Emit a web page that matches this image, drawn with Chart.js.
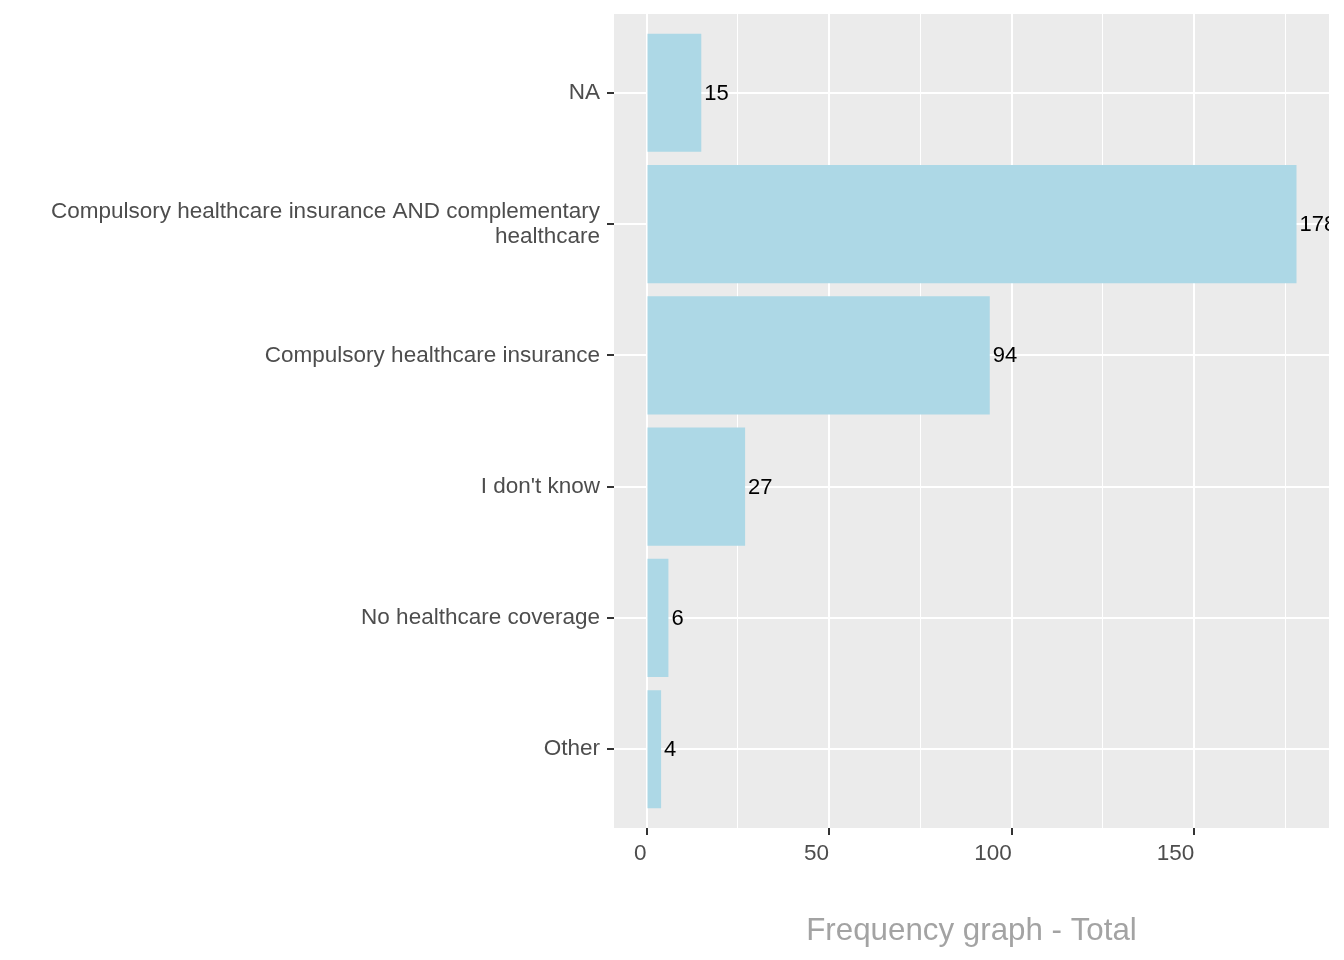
<!DOCTYPE html>
<html>
<head>
<meta charset="utf-8">
<script src="https://cdn.jsdelivr.net/npm/chart.js@4.4.1/dist/chart.umd.min.js"></script>
<style>
  html, body { margin: 0; padding: 0; background: #ffffff; }
  #wrap { width: 1344px; height: 960px; }
</style>
</head>
<body>
<div id="wrap"><canvas id="freqChart" width="1344" height="960"></canvas></div>
<script>
// categories top to bottom
const categories = [
    'NA',
    ['Compulsory healthcare insurance AND complementary', 'healthcare'],
    'Compulsory healthcare insurance',
    "I don't know",
    'No healthcare coverage',
    'Other'
];
const counts = [15, 178, 94, 27, 6, 4];
const xMajorTicks = [0, 50, 100, 150];
const xMinorTicks = [25, 75, 125, 175];
const axisTitle = 'Frequency graph - Total';

const FONT = '"Liberation Sans", Arial, sans-serif';
const PANEL_BG = '#EBEBEB';
const BAR_FILL = '#ADD8E6';

// ggplot style expansion: 5% on continuous axis, 0.6 on discrete
const xMax = Math.max(...counts);
const xExpand = xMax * 0.05;

const panelBg = {
    id: 'panelBg',
    beforeDraw(chart) {
        const { ctx, chartArea: a } = chart;
        ctx.save();
        ctx.fillStyle = PANEL_BG;
        ctx.fillRect(a.left, a.top, a.right - a.left, a.bottom - a.top);
        ctx.restore();
    }
};

const valueLabels = {
    id: 'valueLabels',
    afterDatasetsDraw(chart) {
        const { ctx, chartArea: a } = chart;
        const meta = chart.getDatasetMeta(0);
        ctx.save();
        ctx.beginPath();
        ctx.rect(a.left, a.top, a.right - a.left, a.bottom - a.top);
        ctx.clip();
        ctx.fillStyle = '#000000';
        ctx.font = '22px ' + FONT;
        ctx.textAlign = 'left';
        ctx.textBaseline = 'middle';
        meta.data.forEach((bar, i) => {
            ctx.fillText(String(counts[i]), bar.x + 3, bar.y + 1);
        });
        ctx.restore();
    }
};

const ctx = document.getElementById('freqChart').getContext('2d');
new Chart(ctx, {
    type: 'bar',
    data: {
        datasets: [{
            data: counts.map((v, i) => ({ x: v, y: i })),
            backgroundColor: BAR_FILL,
            borderWidth: 0,
            barPercentage: 0.9,
            categoryPercentage: 1.0
        }]
    },
    options: {
        indexAxis: 'y',
        responsive: false,
        animation: false,
        devicePixelRatio: 1,
        layout: { padding: { top: 14, right: 15, left: 0, bottom: 0 } },
        plugins: {
            legend: { display: false },
            tooltip: { enabled: false }
        },
        scales: {
            x: {
                type: 'linear',
                min: -xExpand,
                max: xMax + xExpand,
                afterBuildTicks: (scale) => {
                    scale.ticks = xMajorTicks.concat(xMinorTicks).sort((a, b) => a - b).map(v => ({ value: v }));
                },
                afterFit: (scale) => {
                    scale.height = 132;
                    scale.paddingLeft = 0;
                    scale.paddingRight = 0;
                },
                border: { display: false },
                grid: {
                    color: '#FFFFFF',
                    lineWidth: (c) => (xMajorTicks.includes(c.tick.value) ? 2 : 1),
                    tickColor: (c) => (xMajorTicks.includes(c.tick.value) ? '#333333' : 'rgba(0,0,0,0)'),
                    tickLength: 7,
                    tickWidth: 2
                },
                ticks: {
                    autoSkip: false,
                    maxRotation: 0,
                    align: 'end',
                    padding: 5,
                    color: '#4D4D4D',
                    font: { family: FONT, size: 22.5 },
                    callback: (v) => (xMajorTicks.includes(v) ? String(v) : '')
                },
                title: {
                    display: true,
                    text: axisTitle,
                    color: '#A3A3A3',
                    font: { family: FONT, size: 31.3 },
                    padding: { top: 0, bottom: 10 }
                }
            },
            y: {
                type: 'linear',
                offset: false,
                min: -0.6,
                max: categories.length - 1 + 0.6,
                reverse: true,
                afterBuildTicks: (scale) => {
                    scale.ticks = categories.map((c, i) => ({ value: i }));
                },
                afterFit: (scale) => {
                    scale.width = 614;
                    scale.paddingTop = 0;
                    scale.paddingBottom = 0;
                },
                border: { display: false },
                grid: {
                    offset: false,
                    color: '#FFFFFF',
                    lineWidth: 2,
                    tickColor: '#333333',
                    tickLength: 7,
                    tickWidth: 2
                },
                ticks: {
                    autoSkip: false,
                    padding: 7,
                    color: '#4D4D4D',
                    font: { family: FONT, size: 22.5, lineHeight: 1.1 },
                    callback: (v) => categories[v]
                }
            }
        }
    },
    plugins: [panelBg, valueLabels]
});
</script>
</body>
</html>
